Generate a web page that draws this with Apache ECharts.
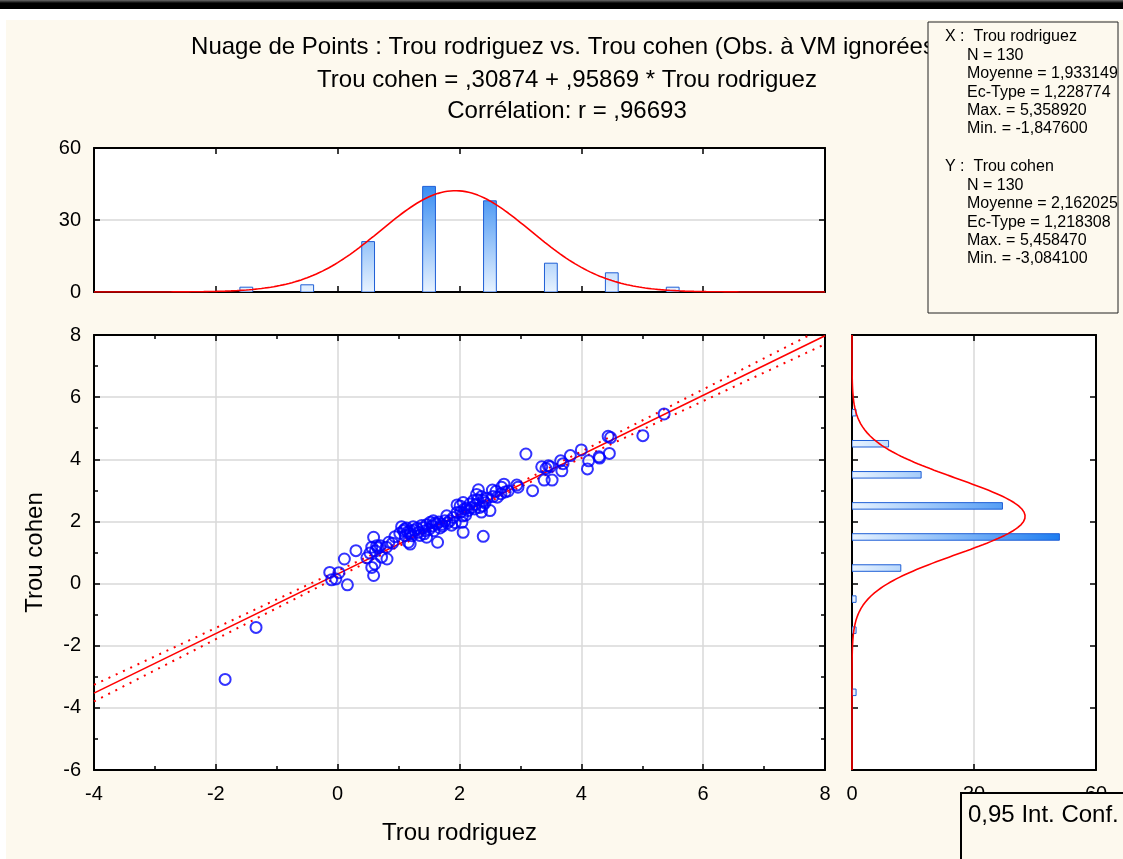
<!DOCTYPE html>
<html>
<head>
<meta charset="utf-8">
<script src="https://cdn.jsdelivr.net/npm/echarts@6/dist/echarts.min.js"></script>
<style>
  html, body { margin: 0; padding: 0; background: #ffffff; }
  #chart { width: 1123px; height: 859px; }
</style>
</head>
<body>
<div id="chart"></div>
<script>
// Paired observations: Trou rodriguez (x) and Trou cohen (y), N = 130
const trouRodriguez = [
  -1.8476, -1.34,
  -0.13, -0.10, -0.03,
  0.02, 0.16, 0.11, 0.30, 0.48, 0.53, 0.56, 0.59, 0.64, 0.61, 0.56, 0.59, 0.72, 0.70, 0.80, 0.84, 0.81, 0.94, 0.62, 0.66, 0.90,
  1.05, 1.08, 1.13, 1.11, 1.19, 1.24, 1.16, 1.22, 1.19, 1.38,
  1.44, 1.46, 1.46, 1.52, 1.57, 1.62, 1.64, 1.68, 1.71, 1.76,
  1.79, 1.84, 1.90, 1.96, 1.96, 1.02, 1.10, 1.15, 1.20, 1.26,
  1.30, 1.33, 1.35, 1.40, 1.42, 1.50, 1.55, 1.58, 1.60, 1.66,
  1.72, 1.80, 1.87, 1.93,
  2.01, 2.06, 2.12, 2.17, 2.23, 2.04, 2.06, 2.05, 2.39, 2.50,
  2.36, 2.38, 2.31, 2.28, 2.36, 2.39, 2.54, 2.60, 2.68, 2.69,
  2.73, 2.94, 2.96, 2.02, 2.08, 2.10, 2.14, 2.20, 2.25, 2.27,
  2.30, 2.33, 2.42, 2.45, 2.55, 2.62, 2.75, 2.80,
  3.09, 3.20, 3.35, 3.39, 3.46, 3.49, 3.52, 3.66, 3.70, 3.68, 3.82, 3.42,
  4.00, 4.10, 4.29, 4.30, 4.46, 4.44, 4.48, 4.12,
  5.01, 5.35892
];
const trouCohen = [
  -3.0841, -1.41,
  0.36, 0.12, 0.15,
  0.35, -0.04, 0.79, 1.06, 0.83, 0.98, 1.17, 1.49, 1.22, 0.63, 0.52, 0.26, 0.85, 1.22, 1.17, 1.33, 0.79, 1.51, 1.05, 1.15, 1.30,
  1.83, 1.70, 1.79, 1.54, 1.70, 1.83, 1.33, 1.54, 1.27, 1.87,
  1.70, 1.89, 1.49, 1.97, 2.02, 1.91, 1.33, 1.79, 1.91, 2.02,
  2.18, 2.02, 2.13, 2.53, 2.29, 1.62, 1.75, 1.66, 1.60, 1.72,
  1.78, 1.65, 1.55, 1.80, 1.60, 1.75, 1.85, 1.70, 1.95, 1.98,
  1.85, 1.95, 1.88, 1.96,
  2.50, 2.61, 2.43, 2.56, 2.67, 1.97, 1.65, 2.18, 1.52, 2.35,
  2.30, 2.50, 3.02, 2.87, 2.80, 2.67, 3.01, 2.97, 2.89, 3.10,
  3.20, 3.17, 3.10, 2.30, 2.40, 2.20, 2.35, 2.45, 2.40, 2.55,
  2.70, 2.45, 2.60, 2.75, 2.80, 2.78, 2.95, 2.98,
  4.17, 2.99, 3.76, 3.33, 3.79, 3.76, 3.33, 3.95, 3.86, 3.63, 4.12, 3.70,
  4.30, 3.69, 4.08, 4.04, 4.19, 4.74, 4.70, 3.95,
  4.76, 5.45847
];

// Histogram of Trou rodriguez (bins of width 1)
const xHistCenters = [-1.5, -0.5, 0.5, 1.5, 2.5, 3.5, 4.5, 5.5];
const xHistCounts  = [2, 3, 21, 44, 38, 12, 8, 2];
// Histogram of Trou cohen (bins of width 1)
const yHistCenters = [-3.5, -1.5, -0.5, 0.5, 1.5, 2.5, 3.5, 4.5, 5.5];
const yHistCounts  = [1, 1, 1, 12, 51, 37, 17, 9, 1];

// Descriptive statistics and regression fit
const N_OBS = 130;
const MEAN_X = 1.933149, SD_X = 1.228774, MAX_X = 5.358920, MIN_X = -1.847600;
const MEAN_Y = 2.162025, SD_Y = 1.218308, MAX_Y = 5.458470, MIN_Y = -3.084100;
const INTERCEPT = 0.30874, SLOPE = 0.95869, CORR_R = 0.96693;
const T_975 = 1.9787;          // Student t, 128 df
const BIN_WIDTH = 1;

const titleLines = [
  'Nuage de Points : Trou rodriguez vs. Trou cohen (Obs. à VM ignorées)',
  'Trou cohen = ,30874 + ,95869 * Trou rodriguez',
  'Corrélation: r = ,96693'
];
const fmt = v => v.toFixed(6).replace('.', ',');
const statHeaderX = 'X :  Trou rodriguez';
const statHeaderY = 'Y :  Trou cohen';
const statLinesX = ['N = ' + N_OBS, 'Moyenne = ' + fmt(MEAN_X), 'Ec-Type = ' + fmt(SD_X), 'Max. = ' + fmt(MAX_X), 'Min. = ' + fmt(MIN_X)];
const statLinesY = ['N = ' + N_OBS, 'Moyenne = ' + fmt(MEAN_Y), 'Ec-Type = ' + fmt(SD_Y), 'Max. = ' + fmt(MAX_Y), 'Min. = ' + fmt(MIN_Y)];
const legendLabel = '0,95 Int. Conf.';

// ---- derived curves -------------------------------------------------
const FONT = '"Liberation Sans", Arial, sans-serif';
const RED = '#ff0000';
const X_MIN = -4, X_MAX = 8, Y_MIN = -6, Y_MAX = 8;

const points = trouRodriguez.map((x, i) => [x, trouCohen[i]]);

// fitted normal density, scaled to counts per bin
function normalCount(v, mean, sd) {
  const z = (v - mean) / sd;
  return N_OBS * BIN_WIDTH * Math.exp(-0.5 * z * z) / (sd * Math.sqrt(2 * Math.PI));
}
const curveStep = 0.05;
const normalX = [], normalY = [];
for (let v = X_MIN; v <= X_MAX + 1e-9; v += curveStep) normalX.push([v, normalCount(v, MEAN_X, SD_X)]);
for (let v = Y_MIN; v <= Y_MAX + 1e-9; v += curveStep) normalY.push([normalCount(v, MEAN_Y, SD_Y), v]);

// regression line and 95% confidence band of the mean
const sRes = SD_Y * Math.sqrt(1 - CORR_R * CORR_R) * Math.sqrt((N_OBS - 1) / (N_OBS - 2));
const sxx = (N_OBS - 1) * SD_X * SD_X;
const fitLine = [[X_MIN, INTERCEPT + SLOPE * X_MIN], [X_MAX, INTERCEPT + SLOPE * X_MAX]];
const bandUp = [], bandLo = [];
for (let v = X_MIN; v <= X_MAX + 1e-9; v += 0.1) {
  const yh = INTERCEPT + SLOPE * v;
  const half = T_975 * sRes * Math.sqrt(1 / N_OBS + (v - MEAN_X) * (v - MEAN_X) / sxx);
  bandUp.push([v, yh + half]);
  bandLo.push([v, yh - half]);
}

// ---- layout -----------------------------------------------------------
const MAIN = { left: 94, top: 335, width: 731, height: 435 };
const TOPH = { left: 94, top: 148, width: 731, height: 144 };
const SIDE = { left: 852, top: 335, width: 244, height: 435 };
const BAR_FRAC = 0.21;         // bar thickness as fraction of bin
const GRAD_MAX = 52;           // count reached by the darkest shade
const BAR_LIGHT = '#e8f3ff', BAR_DARK = '#1a7bf0', BAR_EDGE = '#1f5fd6';

const gridBase = { show: true, backgroundColor: '#ffffff', borderWidth: 0, containLabel: false };
const tickStyle = { color: '#000000', width: 1.5 };
const frameLine = { show: true, onZero: false, lineStyle: { color: '#000000', width: 2 } };
const labelStyle = { color: '#000000', fontFamily: FONT, fontSize: 20 };
const nameStyle = { color: '#000000', fontFamily: FONT, fontSize: 24 };
const splitStyle = { show: true, lineStyle: { color: '#d9d9d9', width: 1.5 } };

function valueAxis(o) {
  return Object.assign({
    type: 'value',
    axisLine: frameLine,
    axisTick: { show: true, inside: true, length: 6, lineStyle: tickStyle },
    axisLabel: { show: false },
    splitLine: { show: false }
  }, o);
}
const minor = { show: true, splitNumber: 2, length: 4, lineStyle: tickStyle };

const chart = echarts.init(document.getElementById('chart'), null, { renderer: 'canvas' });

const option = {
  backgroundColor: '#ffffff',
  animation: false,
  grid: [
    Object.assign({}, gridBase, MAIN),
    Object.assign({}, gridBase, TOPH),
    Object.assign({}, gridBase, SIDE)
  ],
  xAxis: [
    valueAxis({ gridIndex: 0, position: 'bottom', min: X_MIN, max: X_MAX, interval: 2,
      axisLabel: Object.assign({ show: true, margin: 14 }, labelStyle),
      splitLine: splitStyle, minorTick: minor,
      name: 'Trou rodriguez', nameLocation: 'middle', nameGap: 51, nameTextStyle: nameStyle }),
    valueAxis({ gridIndex: 0, position: 'top', min: X_MIN, max: X_MAX, interval: 2, minorTick: minor }),
    valueAxis({ gridIndex: 1, position: 'bottom', min: X_MIN, max: X_MAX, interval: 2 }),
    valueAxis({ gridIndex: 1, position: 'top', min: X_MIN, max: X_MAX, interval: 2 }),
    valueAxis({ gridIndex: 2, position: 'bottom', min: 0, max: 60, interval: 30,
      axisLabel: Object.assign({ show: true, margin: 14 }, labelStyle),
      splitLine: splitStyle }),
    valueAxis({ gridIndex: 2, position: 'top', min: 0, max: 60, interval: 30 })
  ],
  yAxis: [
    valueAxis({ gridIndex: 0, position: 'left', min: Y_MIN, max: Y_MAX, interval: 2,
      axisLabel: Object.assign({ show: true, margin: 13 }, labelStyle),
      splitLine: splitStyle, minorTick: minor,
      name: 'Trou cohen', nameLocation: 'middle', nameGap: 47, nameRotate: 90, nameTextStyle: nameStyle }),
    valueAxis({ gridIndex: 0, position: 'right', min: Y_MIN, max: Y_MAX, interval: 2, minorTick: minor }),
    valueAxis({ gridIndex: 1, position: 'left', min: 0, max: 60, interval: 30,
      axisLabel: Object.assign({ show: true, margin: 13 }, labelStyle),
      splitLine: splitStyle }),
    valueAxis({ gridIndex: 1, position: 'right', min: 0, max: 60, interval: 30 }),
    valueAxis({ gridIndex: 2, position: 'left', min: Y_MIN, max: Y_MAX, interval: 2 }),
    valueAxis({ gridIndex: 2, position: 'right', min: Y_MIN, max: Y_MAX, interval: 2 })
  ],
  series: [
    {
      name: 'bandUp', type: 'line', xAxisIndex: 0, yAxisIndex: 0, data: bandUp,
      showSymbol: false, clip: true, silent: true,
      lineStyle: { color: RED, width: 2, type: [2, 6] }, z: 3
    },
    {
      name: 'bandLo', type: 'line', xAxisIndex: 0, yAxisIndex: 0, data: bandLo,
      showSymbol: false, clip: true, silent: true,
      lineStyle: { color: RED, width: 2, type: [2, 6] }, z: 3
    },
    {
      name: 'fit', type: 'line', xAxisIndex: 0, yAxisIndex: 0, data: fitLine,
      showSymbol: false, clip: true, silent: true,
      lineStyle: { color: RED, width: 1.6 }, z: 4
    },
    {
      name: 'obs', type: 'scatter', xAxisIndex: 0, yAxisIndex: 0, data: points,
      symbol: 'circle', symbolSize: 11,
      itemStyle: { color: 'rgba(0,0,0,0)', borderColor: '#0000ff', borderWidth: 2 }, z: 5
    },
    {
      name: 'histX', type: 'custom', xAxisIndex: 2, yAxisIndex: 2,
      data: xHistCenters.map((c, i) => [c, xHistCounts[i]]),
      clip: true,
      renderItem: function (params, api) {
        const c = api.value(0), n = api.value(1);
        const half = BAR_FRAC * BIN_WIDTH / 2;
        const p0 = api.coord([c - half, 0]);
        const p1 = api.coord([c + half, n]);
        const gTop = api.coord([c, GRAD_MAX])[1];
        return {
          type: 'rect',
          shape: { x: p0[0], y: p1[1], width: p1[0] - p0[0], height: p0[1] - p1[1] },
          style: {
            fill: { type: 'linear', x: 0, y: p0[1], x2: 0, y2: gTop, global: true,
              colorStops: [{ offset: 0, color: BAR_LIGHT }, { offset: 1, color: BAR_DARK }] },
            stroke: BAR_EDGE, lineWidth: 1
          }
        };
      },
      z: 3
    },
    {
      name: 'normX', type: 'line', xAxisIndex: 2, yAxisIndex: 2, data: normalX,
      showSymbol: false, silent: true, lineStyle: { color: RED, width: 1.6 }, z: 4
    },
    {
      name: 'histY', type: 'custom', xAxisIndex: 4, yAxisIndex: 4,
      data: yHistCenters.map((c, i) => [yHistCounts[i], c]),
      clip: true,
      renderItem: function (params, api) {
        const n = api.value(0), c = api.value(1);
        const half = BAR_FRAC * BIN_WIDTH / 2;
        const p0 = api.coord([0, c - half]);
        const p1 = api.coord([n, c + half]);
        const gEnd = api.coord([GRAD_MAX, c])[0];
        return {
          type: 'rect',
          shape: { x: p0[0], y: p1[1], width: p1[0] - p0[0], height: p0[1] - p1[1] },
          style: {
            fill: { type: 'linear', x: p0[0], y: 0, x2: gEnd, y2: 0, global: true,
              colorStops: [{ offset: 0, color: BAR_LIGHT }, { offset: 1, color: BAR_DARK }] },
            stroke: BAR_EDGE, lineWidth: 1
          }
        };
      },
      z: 3
    },
    {
      name: 'normY', type: 'line', xAxisIndex: 4, yAxisIndex: 4, data: normalY,
      showSymbol: false, silent: true, lineStyle: { color: RED, width: 1.6 }, z: 4
    }
  ],
  graphic: []
};

// page frame: dark strip at the top and cream panel
const g = [];
g.push({ type: 'rect', z: -10, silent: true, shape: { x: 6, y: 20, width: 1123, height: 859 },
  style: { fill: '#fdf9ee' } });
g.push({ type: 'rect', z: -9, silent: true, shape: { x: 0, y: 0, width: 1123, height: 9 },
  style: { fill: { type: 'linear', x: 0, y: 0, x2: 0, y2: 1,
    colorStops: [{ offset: 0, color: '#6a6a6a' }, { offset: 0.35, color: '#000000' }, { offset: 1, color: '#000000' }] } } });

// title block
const titleY = [47, 80, 111];
titleLines.forEach((t, i) => {
  g.push({ type: 'text', z: 50, silent: true, x: 567, y: titleY[i],
    style: { text: t, font: '24px ' + FONT, fill: '#000', align: 'center', verticalAlign: 'middle' } });
});

// statistics box
g.push({ type: 'rect', z: 60, silent: true, shape: { x: 928, y: 22, width: 190, height: 291 },
  style: { fill: '#fdf9ee', stroke: '#222', lineWidth: 1 } });
const statFont = '16px ' + FONT;
g.push({ type: 'text', z: 61, silent: true, x: 945, y: 37,
  style: { text: statHeaderX, font: statFont, fill: '#000', verticalAlign: 'middle' } });
statLinesX.forEach((t, i) => g.push({ type: 'text', z: 61, silent: true, x: 967, y: 55.5 + i * 18.3,
  style: { text: t, font: statFont, fill: '#000', verticalAlign: 'middle' } }));
g.push({ type: 'text', z: 61, silent: true, x: 945, y: 167,
  style: { text: statHeaderY, font: statFont, fill: '#000', verticalAlign: 'middle' } });
statLinesY.forEach((t, i) => g.push({ type: 'text', z: 61, silent: true, x: 967, y: 185.5 + i * 18.3,
  style: { text: t, font: statFont, fill: '#000', verticalAlign: 'middle' } }));

// confidence legend box
g.push({ type: 'rect', z: 60, silent: true, shape: { x: 961, y: 793, width: 180, height: 80 },
  style: { fill: '#fdf9ee', stroke: '#000', lineWidth: 2 } });
g.push({ type: 'text', z: 61, silent: true, x: 968, y: 815,
  style: { text: legendLabel, font: '24px ' + FONT, fill: '#000', verticalAlign: 'middle' } });

option.graphic = g;
chart.setOption(option);
</script>
</body>
</html>
